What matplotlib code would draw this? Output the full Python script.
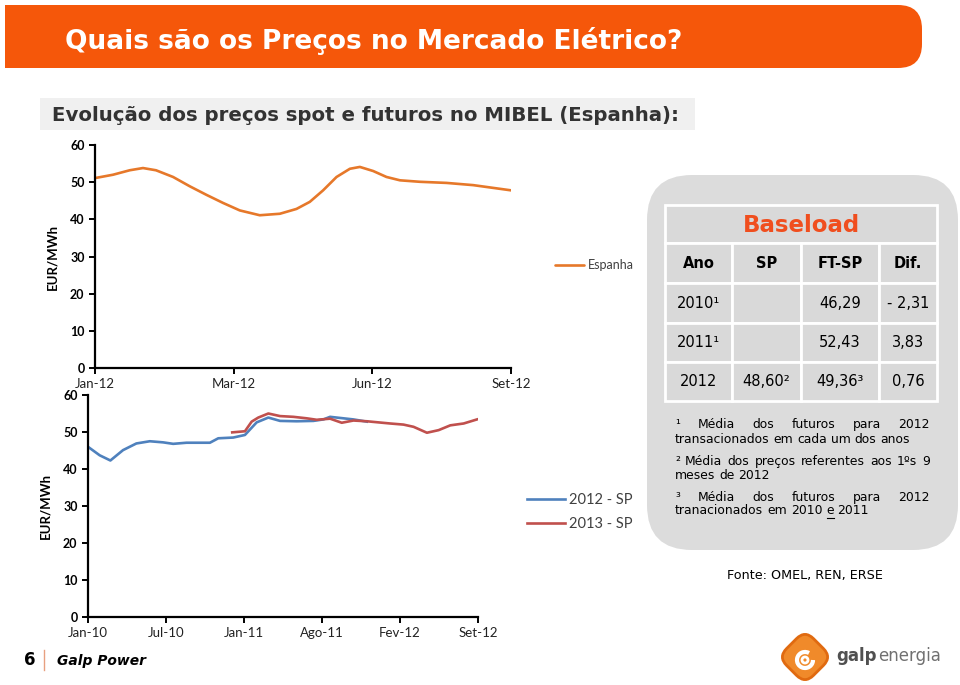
import matplotlib.pyplot as plt
from matplotlib.patches import FancyBboxPatch, Rectangle, Arc
from matplotlib.transforms import Affine2D

# Espanha spot 2012 (x in tick-label units: 0=Jan-12 ... 3=Set-12)
esp_x = [0, 0.13, 0.25, 0.346, 0.44, 0.563, 0.683, 0.803, 0.924, 1.044, 1.188, 1.333,
         1.453, 1.549, 1.645, 1.742, 1.838, 1.91, 2.006, 2.102, 2.199, 2.343, 2.535, 2.728, 3.0]
esp_y = [51.1, 52.0, 53.2, 53.8, 53.2, 51.4, 48.9, 46.6, 44.4, 42.4, 41.1, 41.5,
         42.8, 44.7, 47.8, 51.4, 53.6, 54.1, 53.0, 51.4, 50.5, 50.1, 49.8, 49.2, 47.8]
esp_ticks = ['Jan-12', 'Mar-12', 'Jun-12', 'Set-12']

# futures (x in tick-label units: 0=Jan-10 ... 5=Set-12)
sp12_x = [0, 0.15, 0.287, 0.449, 0.62, 0.792, 0.963, 1.092, 1.263, 1.563, 1.67, 1.862,
          2.012, 2.162, 2.312, 2.462, 2.676, 2.89, 3.018, 3.104, 3.232, 3.403, 3.575]
sp12_y = [46.0, 43.7, 42.3, 45.1, 46.9, 47.5, 47.2, 46.8, 47.1, 47.1, 48.3, 48.5,
          49.2, 52.6, 53.9, 53.0, 52.9, 53.0, 53.4, 54.1, 53.8, 53.4, 52.8]
sp13_x = [1.849, 2.012, 2.098, 2.183, 2.312, 2.462, 2.633, 2.804, 2.933, 3.104, 3.253,
          3.403, 3.575, 3.724, 3.874, 4.045, 4.174, 4.345, 4.495, 4.645, 4.816, 4.987]
sp13_y = [49.9, 50.2, 52.8, 53.9, 55.0, 54.3, 54.1, 53.7, 53.3, 53.6, 52.5,
          53.1, 52.9, 52.6, 52.3, 52.0, 51.4, 49.8, 50.5, 51.8, 52.3, 53.4]
fut_ticks = ['Jan-10', 'Jul-10', 'Jan-11', 'Ago-11', 'Fev-12', 'Set-12']

# table
tab_header = ['Ano', 'SP', 'FT-SP', 'Dif.']
tab_rows = [['2010¹', '', '46,29', '- 2,31'],
            ['2011¹', '', '52,43', '3,83'],
            ['2012', '48,60²', '49,36³', '0,76']]

ORANGE = '#F5570A'
W, H = 960, 685

fig = plt.figure(figsize=(9.6, 6.85), dpi=100)
bg = fig.add_axes([0, 0, 1, 1], zorder=0)
bg.set_xlim(0, W)
bg.set_ylim(H, 0)
bg.axis('off')

# title bar
bg.add_patch(FancyBboxPatch((5, 5), 917, 63, boxstyle='round,pad=0,rounding_size=24',
                            fc=ORANGE, ec='none'))
bg.add_patch(Rectangle((5, 5), 100, 63, fc=ORANGE, ec='none'))
bg.text(65, 41, 'Quais são os Preços no Mercado Elétrico?', color='white',
        fontsize=19, fontweight='bold', va='center', ha='left')

# subtitle
bg.add_patch(Rectangle((40, 98), 655, 32, fc='#F0F0F0', ec='none'))
bg.text(52, 115, 'Evolução dos preços spot e futuros no MIBEL (Espanha):', color='#333333',
        fontsize=14.2, fontweight='bold', va='center', ha='left')


def style_chart(ax, ticks):
    for s in ['top', 'right']:
        ax.spines[s].set_visible(False)
    for s in ['left', 'bottom']:
        ax.spines[s].set_linewidth(1.6)
        ax.spines[s].set_color('black')
    ax.set_ylim(0, 60)
    ax.set_yticks(range(0, 61, 10))
    ax.set_xlim(0, len(ticks) - 1)
    ax.set_xticks(range(len(ticks)))
    ax.set_xticklabels(ticks, family='Lato', fontsize=9.5, color='#222222')
    for lab in ax.get_yticklabels():
        lab.set_family('Lato')
        lab.set_fontweight('bold')
        lab.set_fontsize(9)
    ax.tick_params(direction='out', length=4, width=1.4)
    ax.set_ylabel('EUR/MWh', family='Lato', fontweight='bold', fontsize=9.5, labelpad=8)
    ax.patch.set_alpha(0)


# chart 1
ax1 = fig.add_axes([95 / W, 1 - 368 / H, 416 / W, 223 / H], zorder=2)
ax1.plot(esp_x, esp_y, color='#E6782A', lw=1.9, label='Espanha', solid_capstyle='round')
style_chart(ax1, esp_ticks)
ax1.legend(loc='center left', bbox_to_anchor=(555 / W, 1 - 265 / H), bbox_transform=fig.transFigure,
           frameon=False, borderpad=0, borderaxespad=0, handlelength=2.3, handletextpad=0.3,
           prop={'family': 'Lato', 'size': 9}, labelcolor='#404040')

# chart 2
ax2 = fig.add_axes([88 / W, 1 - 617 / H, 390 / W, 222 / H], zorder=2)
ax2.plot(sp12_x, sp12_y, color='#4F81BD', lw=1.9, label='2012 - SP')
ax2.plot(sp13_x, sp13_y, color='#C0504D', lw=1.9, label='2013 - SP')
style_chart(ax2, fut_ticks)
ax2.legend(loc='center left', bbox_to_anchor=(527 / W, 1 - 512 / H), bbox_transform=fig.transFigure,
           frameon=False, borderpad=0, borderaxespad=0, handlelength=2.6, handletextpad=0.3,
           labelspacing=0.65, prop={'family': 'Lato', 'size': 10.5}, labelcolor='#404040')

# right panel
bg.add_patch(FancyBboxPatch((647, 175), 311, 375, boxstyle='round,pad=0,rounding_size=45',
                            fc='#DCDCDC', ec='none'))
cols = [665, 732, 801, 879, 937]
rows = [205, 243, 283, 323, 362, 401]
bg.add_patch(Rectangle((cols[0], rows[0]), cols[-1] - cols[0], rows[1] - rows[0],
                       fc='#D9D9D9', ec='white', lw=2))
bg.text((cols[0] + cols[-1]) / 2, (rows[0] + rows[1]) / 2 + 1, 'Baseload', color='#F04E1E',
        fontsize=16.5, fontweight='bold', ha='center', va='center')
table = [tab_header] + tab_rows
for r, row in enumerate(table):
    y0, y1 = rows[r + 1], rows[r + 2]
    for c, val in enumerate(row):
        x0, x1 = cols[c], cols[c + 1]
        bg.add_patch(Rectangle((x0, y0), x1 - x0, y1 - y0, fc='#D9D9D9', ec='white', lw=2))
        bg.text((x0 + x1) / 2, (y0 + y1) / 2, val, fontsize=10.5, ha='center', va='center',
                color='black', fontweight='bold' if r == 0 else 'normal')

# footnotes
renderer = fig.canvas.get_renderer()
FN = dict(fontsize=8.9, color='black', va='center', ha='left')


def width(s):
    t = bg.text(0, 0, s, **FN)
    w = t.get_window_extent(renderer).width
    t.remove()
    return w


def place_words(words, x0, y, x1=None):
    ws = [width(w) for w in words]
    if x1 is None:
        gap = width('a a') - width('aa')
    else:
        gap = (x1 - x0 - sum(ws)) / (len(words) - 1)
    x = x0
    out = []
    for w, wd in zip(words, ws):
        bg.text(x, y, w, **FN)
        out.append((x, wd))
        x += wd + gap
    return out


place_words(['¹', 'Média', 'dos', 'futuros', 'para', '2012'], 675, 424, 930)
place_words('transacionados em cada um dos anos'.split(), 675, 439)
place_words('² Média dos preços referentes aos 1ºs 9'.split(), 675, 461, 930)
place_words('meses de 2012'.split(), 675, 475)
place_words(['³', 'Média', 'dos', 'futuros', 'para', '2012'], 675, 497, 930)
pos = place_words('tranacionados em 2010 e 2011'.split(), 675, 511)
ex, ew = pos[3]
bg.plot([ex + 1, ex + ew], [517.5, 517.5], color='black', lw=0.8)

bg.text(805, 576, 'Fonte: OMEL, REN, ERSE', fontsize=9.2, ha='center', va='center')

# footer
bg.text(30, 660, '6', fontsize=12, fontweight='bold', ha='center', va='center')
bg.plot([44, 44], [650, 670], color='#E8A080', lw=1)
bg.text(57, 661, 'Galp Power', fontsize=10, fontweight='bold', fontstyle='italic',
        ha='left', va='center')

# logo
rot = Affine2D().rotate_deg_around(805, 657, 45) + bg.transData
bg.add_patch(FancyBboxPatch((786, 638), 38, 38, boxstyle='round,pad=0,rounding_size=12',
                            fc='#F08A2A', ec='#E06A10', lw=2, transform=rot))
bg.add_patch(Arc((805, 660), 16, 16, theta1=0, theta2=300, color='white', lw=3))
bg.add_patch(Arc((805, 660), 6, 6, theta1=0, theta2=360, color='white', lw=2))
t = bg.text(836, 656, 'galp', fontsize=12, fontweight='bold', color='#505050',
            ha='left', va='center')
gx = t.get_window_extent(renderer).x1
bg.text(gx + 2, 656, 'energia', fontsize=12, color='#707070', ha='left', va='center')

fig.savefig('out.png', dpi=100)
